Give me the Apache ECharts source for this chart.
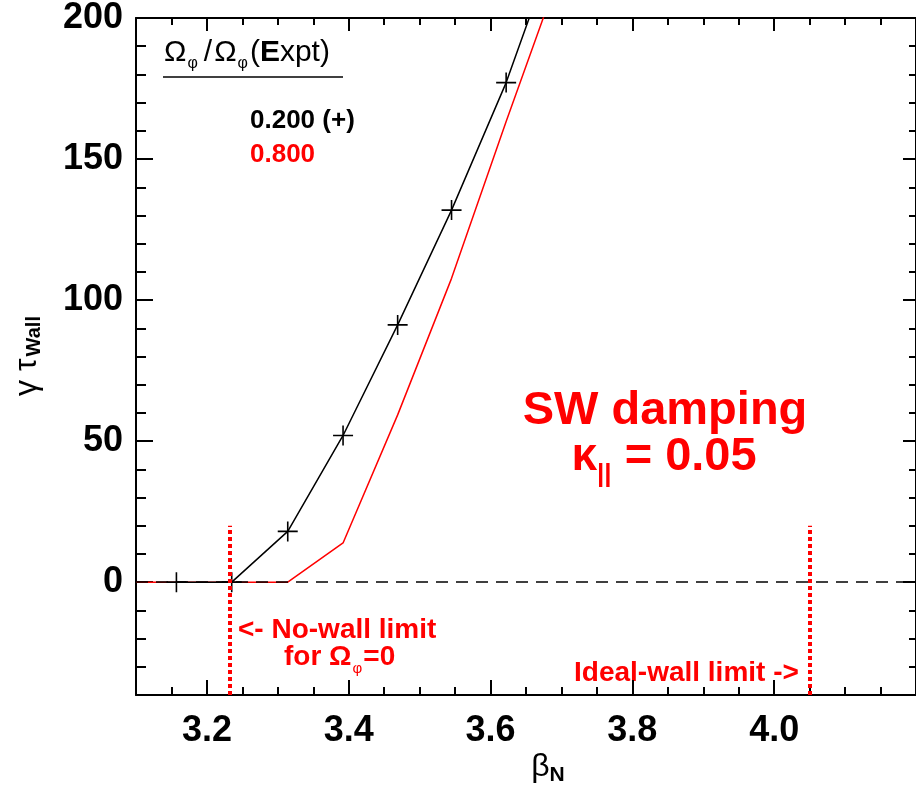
<!DOCTYPE html>
<html>
<head>
<meta charset="utf-8">
<script src="https://cdn.jsdelivr.net/npm/echarts@6/dist/echarts.min.js"></script>
<style>
  html, body { margin: 0; padding: 0; background: #fff; }
  #chart { width: 916px; height: 795px; }
</style>
</head>
<body>
<div id="chart"></div>
<script>
// Growth rate of the resistive wall mode vs. normalized beta
const betaBlack   = [3.157, 3.235, 3.314, 3.392, 3.469, 3.545, 3.622, 3.700];
const growthBlack = [0, 0, 18.0, 52.0, 91.2, 131.9, 177.1, 232];
const betaRed     = [3.100, 3.314, 3.392, 3.469, 3.545, 3.622, 3.700];
const growthRed   = [0, 0, 13.9, 59.3, 107.7, 163.3, 218];

// Stability limits (vertical markers) and the height they reach
const noWallLimit = 3.232;
const idealWallLimit = 4.050;
const limitBottom = -40;
const limitTop = 20;

// Axis ranges and labelled ticks
const xRange = [3.1, 4.2];
const yRange = [-40, 200];
const xMajorTicks = [3.2, 3.4, 3.6, 3.8, 4.0];
const yMajorTicks = [0, 50, 100, 150, 200];
const xMinorStep = 0.05;
const yMinorStep = 10;

const FONT = '"Liberation Sans", Arial, Helvetica, sans-serif';
const RED = '#ff0000';

const pairs = (xs, ys) => xs.map((x, i) => [x, ys[i]]);

// "+" marker as a thin filled cross
const plusSymbol = 'path://M-0.8,-10 L0.8,-10 L0.8,-0.8 L10,-0.8 L10,0.8 L0.8,0.8 L0.8,10 L-0.8,10 L-0.8,0.8 L-10,0.8 L-10,-0.8 L-0.8,-0.8 Z';

function baseAxis(pos, range, len) {
  return {
    type: 'value', position: pos, min: range[0], max: range[1],
    axisLine: { show: true, onZero: false, lineStyle: { color: '#000', width: 2 } },
    splitLine: { show: false },
    axisTick: { show: true, inside: true, length: len, lineStyle: { color: '#000', width: 2 } },
    axisLabel: { show: false }
  };
}

function xAx(pos, major, len, showLabel) {
  const a = baseAxis(pos, xRange, len);
  if (major) {
    a.axisLine.show = false;
    a.axisTick.customValues = xMajorTicks;
    if (showLabel) {
      a.axisLabel = {
        show: true, customValues: xMajorTicks, margin: 18,
        formatter: v => v.toFixed(1),
        fontFamily: FONT, fontWeight: 'bold', fontSize: 36, color: '#000'
      };
    }
  } else {
    a.interval = xMinorStep;
  }
  return a;
}

function yAx(pos, major, len, showLabel) {
  const a = baseAxis(pos, yRange, len);
  if (major) {
    a.axisLine.show = false;
    a.axisTick.customValues = yMajorTicks;
    if (showLabel) {
      a.axisLabel = {
        show: true, customValues: yMajorTicks, margin: 13,
        fontFamily: FONT, fontWeight: 'bold', fontSize: 36, color: '#000'
      };
    }
  } else {
    a.interval = yMinorStep;
  }
  return a;
}

const chart = echarts.init(document.getElementById('chart'), null, { renderer: 'canvas' });

chart.setOption({
  animation: false,
  backgroundColor: '#fff',
  grid: { left: 136, top: 17, width: 781, height: 678, containLabel: false },
  xAxis: [
    xAx('bottom', false, 8, false),
    xAx('bottom', true, 15, true),
    xAx('top', false, 7, false),
    xAx('top', true, 13, false)
  ],
  yAxis: [
    yAx('left', false, 10, false),
    yAx('left', true, 17, true),
    yAx('right', false, 7, false),
    yAx('right', true, 13, false)
  ],
  series: [
    {
      name: 'zero',
      type: 'line',
      data: [],
      markLine: {
        silent: true, symbol: 'none', label: { show: false },
        lineStyle: { color: '#000', width: 1.5, type: [12, 8] },
        data: [{ yAxis: 0 }]
      }
    },
    {
      name: '0.800',
      type: 'line',
      data: pairs(betaRed, growthRed),
      showSymbol: false,
      clip: true,
      lineStyle: { color: RED, width: 1.5 },
      z: 3
    },
    {
      name: '0.200 (+)',
      type: 'line',
      data: pairs(betaBlack, growthBlack),
      symbol: plusSymbol,
      symbolSize: 20,
      itemStyle: { color: '#000' },
      clip: true,
      lineStyle: { color: '#000', width: 1.5 },
      z: 4
    },
    {
      name: 'limits',
      type: 'line',
      data: [],
      markLine: {
        silent: true, symbol: 'none', label: { show: false },
        lineStyle: { color: RED, width: 4, type: [4, 3] },
        data: [
          [{ coord: [noWallLimit, limitBottom] }, { coord: [noWallLimit, limitTop] }],
          [{ coord: [idealWallLimit, limitBottom] }, { coord: [idealWallLimit, limitTop] }]
        ]
      },
      z: 5
    }
  ],
  graphic: [
    // legend heading
    {
      type: 'text', left: 164, top: 38,
      style: {
        text: '{o|Ω}{p|φ}{s|/}{o|Ω}{p|φ}{o|(}{e|E}{o|xpt)}',
        fill: '#000',
        rich: {
          o: { fontFamily: FONT, fontSize: 30, lineHeight: 34, verticalAlign: 'top' },
          e: { fontFamily: FONT, fontSize: 30, fontWeight: 'bold', lineHeight: 34, verticalAlign: 'top' },
          s: { fontFamily: FONT, fontSize: 30, lineHeight: 34, verticalAlign: 'top', padding: [0, 2, 0, 4] },
          p: { fontFamily: FONT, fontSize: 16, lineHeight: 20, verticalAlign: 'top', padding: [18, 2, 0, 1] }
        }
      }
    },
    {
      type: 'line', shape: { x1: 163, y1: 77, x2: 343, y2: 77 },
      style: { stroke: '#000', lineWidth: 1.5 }
    },
    {
      type: 'text', left: 250, top: 108,
      style: { text: '0.200 (+)', fill: '#000', font: 'bold 26px ' + FONT }
    },
    {
      type: 'text', left: 250, top: 142,
      style: { text: '0.800', fill: RED, font: 'bold 26px ' + FONT }
    },
    // damping model annotation
    {
      type: 'text', x: 665, y: 411,
      style: {
        text: 'SW damping', fill: RED, font: 'bold 47px ' + FONT,
        align: 'center', verticalAlign: 'middle'
      }
    },
    {
      type: 'text', x: 664, y: 472,
      style: {
        text: '{k|κ}{b|||}{t| = 0.05}', align: 'center', verticalAlign: 'middle',
        rich: {
          k: { fontFamily: FONT, fontSize: 46, fontWeight: 'bold', fill: RED, lineHeight: 60, verticalAlign: 'top' },
          b: { fontFamily: FONT, fontSize: 26, fontWeight: 'bold', fill: RED, lineHeight: 76, verticalAlign: 'top', padding: [28, 0, 0, 0] },
          t: { fontFamily: FONT, fontSize: 47, fontWeight: 'bold', fill: RED, lineHeight: 60, verticalAlign: 'top' }
        }
      }
    },
    // limit labels
    {
      type: 'text', left: 238, top: 616,
      style: { text: '<- No-wall limit', fill: RED, font: 'bold 28px ' + FONT }
    },
    {
      type: 'text', left: 284, top: 643,
      style: {
        text: '{a|for Ω}{p|φ}{a|=0}',
        rich: {
          a: { fontFamily: FONT, fontSize: 28, fontWeight: 'bold', fill: RED, lineHeight: 32, verticalAlign: 'top' },
          p: { fontFamily: FONT, fontSize: 15, fill: RED, lineHeight: 20, verticalAlign: 'top', padding: [18, 1, 0, 1] }
        }
      }
    },
    {
      type: 'text', left: 574, top: 659,
      style: { text: 'Ideal-wall limit ->', fill: RED, font: 'bold 28px ' + FONT }
    },
    // axis titles
    {
      type: 'text', x: 548, y: 770,
      style: {
        text: '{g|β}{n|N}', align: 'center', verticalAlign: 'middle',
        rich: {
          g: { fontFamily: FONT, fontSize: 32, fill: '#000', lineHeight: 38, verticalAlign: 'top' },
          n: { fontFamily: FONT, fontSize: 21, fontWeight: 'bold', fill: '#000', lineHeight: 38, verticalAlign: 'top', padding: [14, 0, 0, 0] }
        }
      }
    },
    {
      type: 'text', x: 29, y: 356, rotation: Math.PI / 2,
      style: {
        text: '{g|γ τ}{w|Wall}', align: 'center', verticalAlign: 'middle',
        rich: {
          g: { fontFamily: FONT, fontSize: 32, fill: '#000', lineHeight: 36, verticalAlign: 'top' },
          w: { fontFamily: FONT, fontSize: 20, fontWeight: 'bold', fill: '#000', lineHeight: 36, verticalAlign: 'top', padding: [13, 0, 0, 2] }
        }
      }
    }
  ]
});
</script>
</body>
</html>
